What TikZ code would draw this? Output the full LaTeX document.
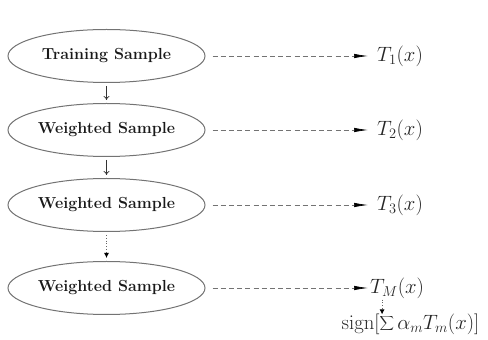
\documentclass[tikz,border=0pt]{standalone}
\usetikzlibrary{arrows.meta,shapes.geometric}
\begin{document}
\begin{tikzpicture}[x=1pt,y=1pt,
  sample/.style={draw=black!55, line width=1pt, ellipse, minimum width=197pt, minimum height=53pt,
    inner sep=0pt, font=\fontsize{16}{18}\selectfont\bfseries, text=black!90},
  outlbl/.style={anchor=west, inner sep=0pt, font=\fontsize{20.5}{23}\selectfont, text=black!85},
  dashlink/.style={draw=black!55, dash pattern=on 5pt off 3.2pt, line width=0.7pt,
    -{Latex[length=14pt,width=4.5pt,black]}},
  flow/.style={draw=black!80, line width=0.7pt, -{To[length=4pt,width=6pt]}},
  flowdot/.style={draw=black!60, line width=0.8pt, dotted, -{Latex[length=5pt,width=5pt,black]}}]
\useasboundingbox (0,0) rectangle (488,340);
\node[sample] (s1) at (106.5,284) {Training Sample};
\node[sample] (s2) at (106.5,210) {Weighted Sample};
\node[sample] (s3) at (106.5,135) {Weighted Sample};
\node[sample] (s4) at (106.5,52) {Weighted Sample};

\node[outlbl] (t1) at (377,284) {$T_1(x)$};
\node[outlbl] (t2) at (377,210) {$T_2(x)$};
\node[outlbl] (t3) at (377,135) {$T_3(x)$};
\node[outlbl] (t4) at (370,52) {$T_M(x)$};
\node[inner sep=0pt, font=\fontsize{20.5}{23}\selectfont, text=black!85] (sg) at (410.5,16)
  {$\mathrm{sign}[\displaystyle\sum \alpha_m T_m(x)]$};

\draw[dashlink] ([xshift=7pt]s1.east) -- ([xshift=-9pt]t1.west);
\draw[dashlink] ([xshift=7pt]s2.east) -- ([xshift=-9pt]t2.west);
\draw[dashlink] ([xshift=7pt]s3.east) -- ([xshift=-9pt]t3.west);
\draw[dashlink] ([xshift=7pt]s4.east) -- ([xshift=-2pt]t4.west |- s4.east);

\draw[flow] ([yshift=-3pt]s1.south) -- ([yshift=3pt]s2.north);
\draw[flow] ([yshift=-3pt]s2.south) -- ([yshift=3pt]s3.north);
\draw[flowdot] ([yshift=-3pt]s3.south) -- ([yshift=3pt]s4.north);
\draw[flowdot] ([xshift=-15pt,yshift=-1pt]t4.south) -- ([xshift=-15pt,yshift=-1pt]t4.south |- sg.north);
\end{tikzpicture}
\end{document}
